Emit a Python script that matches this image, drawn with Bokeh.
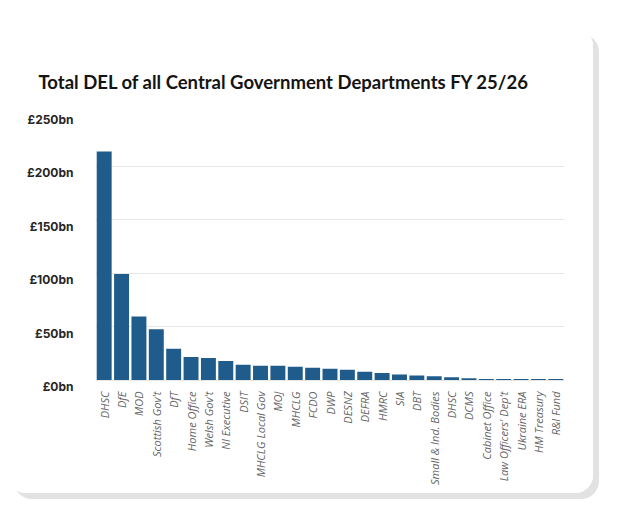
import math
from bokeh.plotting import figure
from bokeh.layouts import column, row
from bokeh.models import FixedTicker, PrintfTickFormatter, Range1d, ColumnDataSource, Title, LinearAxis, Spacer
from bokeh.embed import file_html
from bokeh.resources import INLINE

departments = ["DHSC", "DfE", "MOD", "Scottish Gov't", "DfT", "Home Office", "Welsh Gov't",
               "NI Executive", "DSIT", "MHCLG Local Gov", "MOJ", "MHCLG", "FCDO", "DWP",
               "DESNZ", "DEFRA", "HMRC", "SIA", "DBT", "Small & Ind. Bodies", "DHSC", "DCMS",
               "Cabinet Office", "Law Officers' Dep't", "Ukraine ERA", "HM Treasury", "R&I Fund"]
del_bn = [213.5, 99.0, 59.3, 47.4, 29.3, 21.5, 20.6, 17.8, 14.3, 13.4, 13.4, 12.5, 11.5, 10.6,
          9.6, 7.8, 6.5, 5.2, 4.3, 3.4, 2.6, 1.7, 0.9, 0.9, 0.9, 0.9, 0.9]
y_ticks = [0, 50, 100, 150, 200, 250]

xs = list(range(len(departments)))
src = ColumnDataSource(dict(x=xs, top=del_bn))

p = figure(width=585, height=465, output_backend="svg", toolbar_location=None,
           x_range=Range1d(-0.5, len(departments) - 0.5), y_range=Range1d(-7, 250),
           min_border_left=87, min_border_right=29, min_border_top=84, min_border_bottom=106)
p.styles = {"border-radius": "18px", "box-shadow": "6px 6px 0 0 #e2e2e2", "overflow": "hidden"}

# label axis offset so tick labels sit just below their gridlines
p.extra_y_ranges = {"lab": Range1d(-0.9, 256.1)}

p.vbar(x="x", top="top", width=0.86, bottom=0, source=src, fill_color="#1f5b8b",
       line_color=None)

t = Title(text="Total DEL of all Central Government Departments FY 25/26", align="left",
          text_font="Lato", text_font_style="bold", text_font_size="18.5px", text_color="#141414",
          offset=-57, standoff=39)
p.add_layout(t, "above")

p.background_fill_color = "white"
p.border_fill_color = "white"
p.outline_line_color = None

p.xgrid.grid_line_color = None
p.ygrid.ticker = FixedTicker(ticks=y_ticks)
p.ygrid.grid_line_color = "#e6e6e6"
p.ygrid.grid_line_width = 1
p.yaxis.visible = False

yax = LinearAxis(y_range_name="lab", ticker=FixedTicker(ticks=y_ticks),
                 formatter=PrintfTickFormatter(format="£%dbn"))
yax.axis_line_color = None
yax.major_tick_line_color = None
yax.minor_tick_line_color = None
yax.major_tick_out = 0
yax.major_tick_in = 0
yax.major_label_standoff = 22
yax.major_label_text_font = "Inter"
yax.major_label_text_font_style = "bold"
yax.major_label_text_font_size = "12px"
yax.major_label_text_color = "#262626"
p.add_layout(yax, "left")

p.xaxis.ticker = FixedTicker(ticks=xs)
p.xaxis.major_label_overrides = {i: d for i, d in enumerate(departments)}
p.xaxis.major_label_orientation = math.pi / 2
p.xaxis.axis_line_color = None
p.xaxis.major_tick_line_color = None
p.xaxis.minor_tick_line_color = None
p.xaxis.major_tick_out = 0
p.xaxis.major_tick_in = 0
p.xaxis.major_label_standoff = 4
p.xaxis.major_label_text_font = "Open Sans"
p.xaxis.major_label_text_font_style = "italic"
p.xaxis.major_label_text_font_size = "11px"
p.xaxis.major_label_text_color = "#666666"

page = column(Spacer(height=28, width=10),
              row(Spacer(width=8, height=10), p))

open("out.html", "w").write(file_html(page, INLINE))
